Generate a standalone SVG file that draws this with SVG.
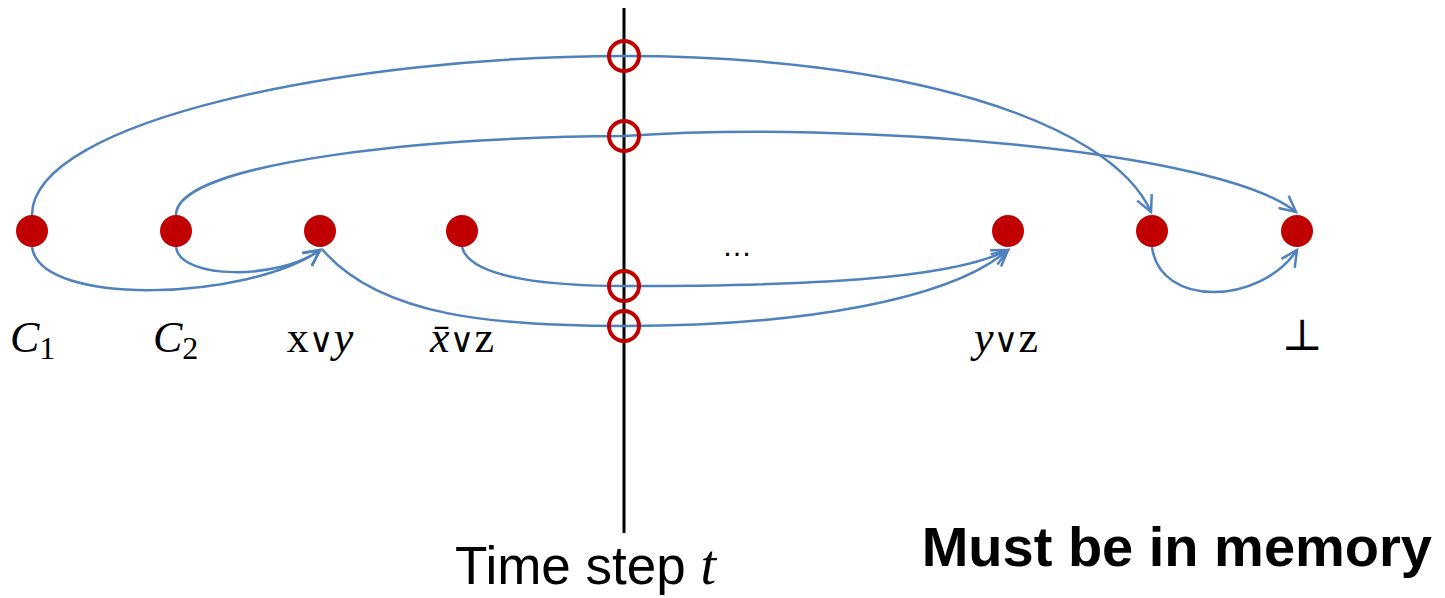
<svg xmlns="http://www.w3.org/2000/svg" width="1445" height="598" viewBox="0 0 1445 598">
<style>
.edge{fill:none;stroke:#4F81BD;stroke-width:2.5;marker-end:url(#arr)}
.node{fill:#C00000}
.cross{fill:none;stroke:#C00000;stroke-width:4}
.lbl{font-family:"Liberation Serif","DejaVu Serif",serif;font-size:44px;fill:#000}
.it{font-style:italic}
.sub{font-size:32px}
.op{font-family:"DejaVu Serif",serif;font-size:34px}
</style>
<defs>
<marker id="arr" markerUnits="userSpaceOnUse" markerWidth="22" markerHeight="22" viewBox="0 0 22 22" refX="18" refY="11" orient="auto">
<path d="M2,3 L18,11 L2,19" fill="none" stroke="#4F81BD" stroke-width="2.5"/>
</marker>
</defs>
<rect width="1445" height="598" fill="#fff"/>
<g id="timeline">
<line x1="624" y1="8" x2="624" y2="533" stroke="#000" stroke-width="3"/>
<text x="455" y="584" font-family="Liberation Sans, Arial, sans-serif" font-size="53">Time step <tspan font-family="Liberation Serif, serif" font-style="italic" font-size="56">t</tspan></text>
</g>
<g id="connectors">
<path class="edge" d="M32,215 C32,120 350,56 624,56 C900,56 1110,120 1151,212"/>
<path class="edge" d="M176,215 C176,160 450,136 624,136 C850,120 1220,150 1296,212"/>
<path class="edge" d="M32,247 C40,308 250,300 320,250"/>
<path class="edge" d="M176,247 C180,280 280,280 320,250"/>
<path class="edge" d="M322,249 C380,318 500,326 624,326 C800,326 950,300 1008,250"/>
<path class="edge" d="M462,247 C470,280 560,286 624,286 C800,286 950,280 1008,250"/>
<path class="edge" d="M1152,247 C1160,308 1260,305 1297,250"/>
</g>
<g id="crossings">
<circle class="cross" cx="624" cy="56" r="15"/>
<circle class="cross" cx="624" cy="136" r="15"/>
<circle class="cross" cx="624" cy="286" r="15"/>
<circle class="cross" cx="624" cy="326" r="15"/>
</g>
<g id="n-C1"><circle class="node" cx="32" cy="231" r="16"/>
<text class="lbl" x="10" y="352"><tspan class="it">C</tspan><tspan class="sub" dy="7">1</tspan></text></g>
<g id="n-C2"><circle class="node" cx="176" cy="231" r="16"/>
<text class="lbl" x="153" y="352"><tspan class="it">C</tspan><tspan class="sub" dy="7">2</tspan></text></g>
<g id="n-xy"><circle class="node" cx="320" cy="231" r="16"/>
<text class="lbl" x="320" y="352" text-anchor="middle">x<tspan class="op">∨</tspan><tspan class="it">y</tspan></text></g>
<g id="n-xz"><circle class="node" cx="462" cy="231" r="16"/>
<text class="lbl" x="462" y="352" text-anchor="middle"><tspan class="it">x̄</tspan><tspan class="op">∨</tspan>z</text></g>
<g id="n-dots"><text x="737" y="256" font-family="Liberation Sans, sans-serif" font-size="30" text-anchor="middle">…</text></g>
<g id="n-yz"><circle class="node" cx="1008" cy="231" r="16"/>
<text class="lbl" x="1006" y="352" text-anchor="middle"><tspan class="it">y</tspan><tspan class="op">∨</tspan>z</text></g>
<g id="n-6"><circle class="node" cx="1152" cy="231" r="16"/></g>
<g id="n-bot"><circle class="node" cx="1297" cy="231" r="16"/>
<text class="lbl" x="1302" y="350" text-anchor="middle" font-family="DejaVu Sans, sans-serif" font-size="36">⊥</text></g>
<g id="note"><text x="1432" y="566" text-anchor="end" font-family="Liberation Sans, Arial, sans-serif" font-size="56" font-weight="bold">Must be in memory</text></g>
</svg>
